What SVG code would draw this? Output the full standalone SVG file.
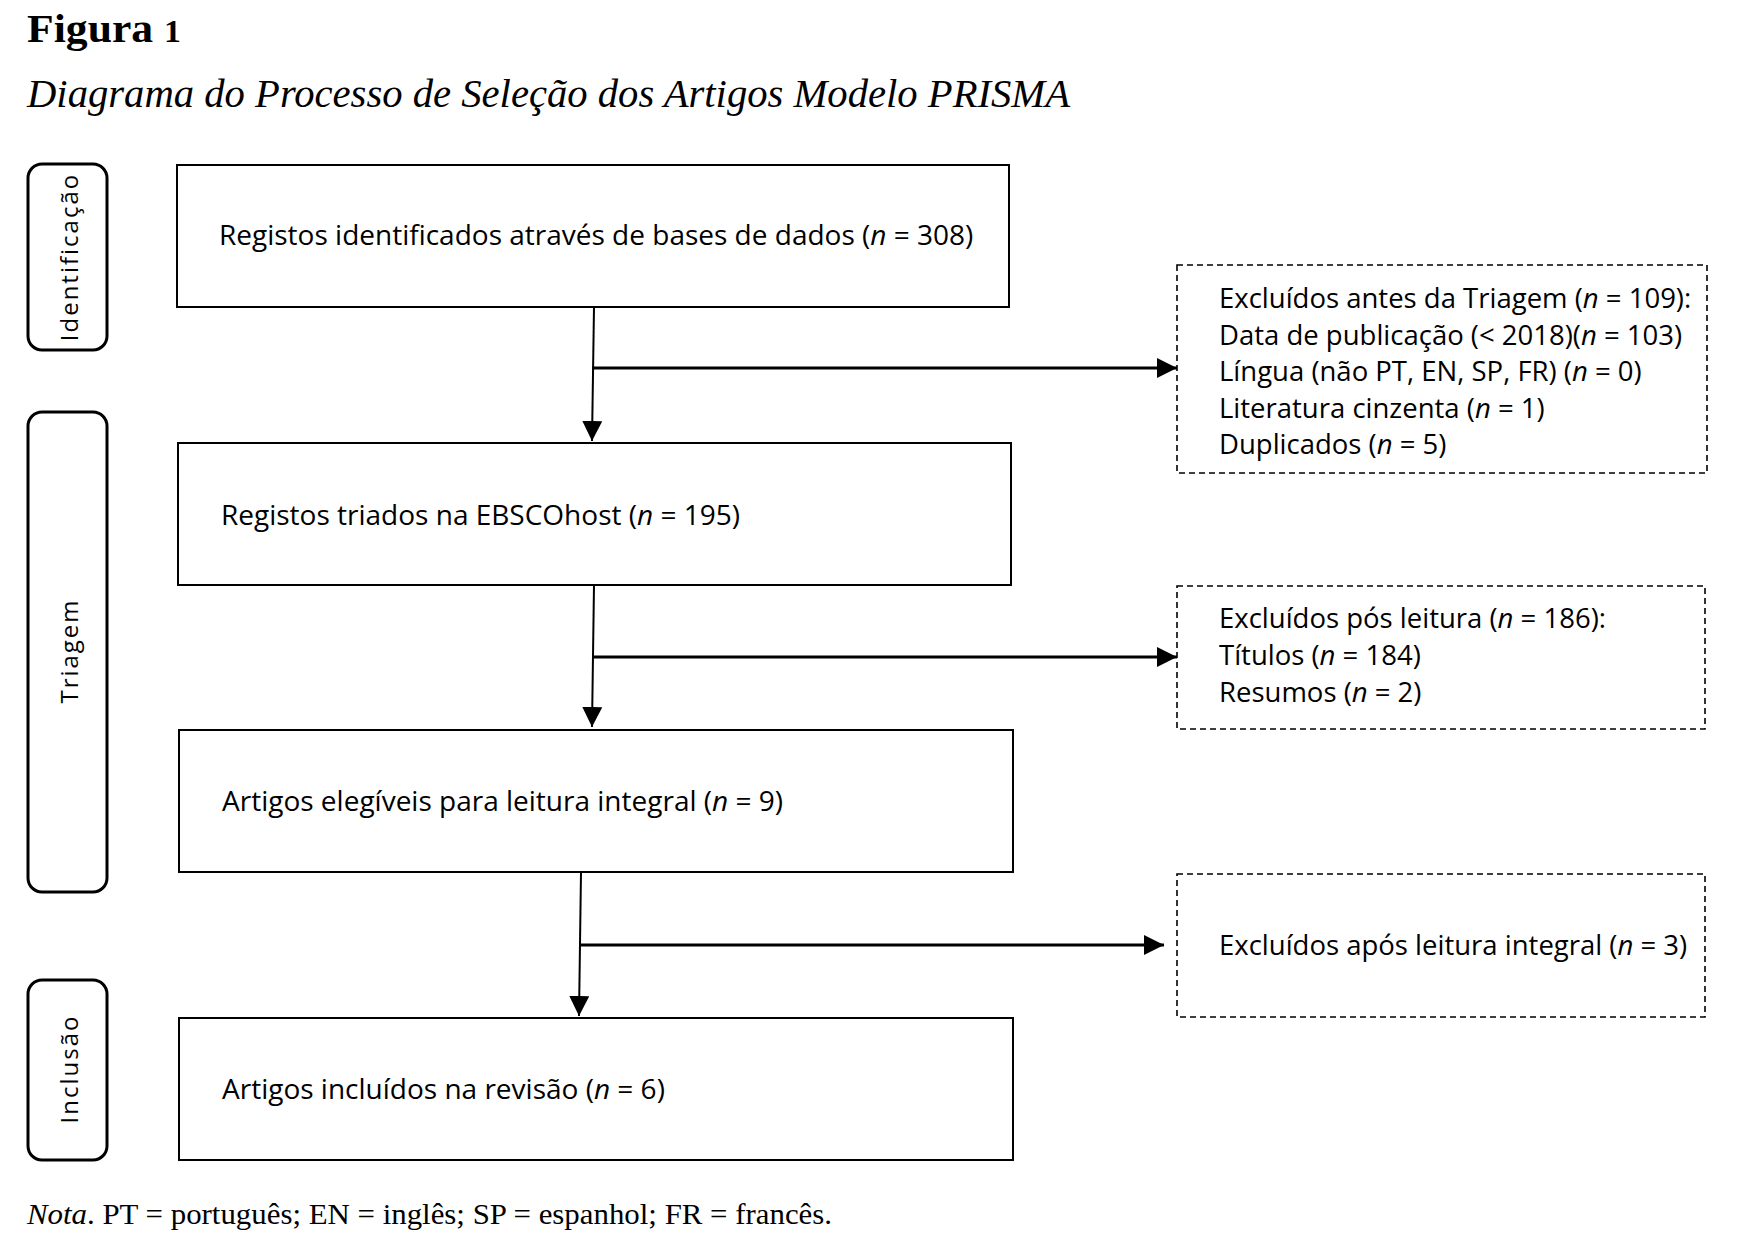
<svg xmlns="http://www.w3.org/2000/svg" width="1744" height="1260" viewBox="0 0 1744 1260">
<style>
.t{font-family:"Liberation Serif",serif;fill:#000}
.b{font-family:"Open Sans","Noto Sans",sans-serif;font-size:28px;fill:#000}
.d{font-family:"Open Sans","Noto Sans",sans-serif;font-size:27.5px;fill:#000}
.side{font-family:"Open Sans","Noto Sans",sans-serif;font-size:24px;letter-spacing:2px;fill:#000;text-anchor:middle}
.box{fill:#fff;stroke:#000;stroke-width:2}
.dash{fill:#fff;stroke:#000;stroke-width:1.6;stroke-dasharray:6 4}
.lane{fill:none;stroke:#000;stroke-width:3}
.v{stroke:#000;stroke-width:2;fill:none}
.h{stroke:#000;stroke-width:3;fill:none}
</style>
<defs>
<marker id="av" markerWidth="20" markerHeight="20" refX="20" refY="10" orient="auto" markerUnits="userSpaceOnUse" viewBox="0 0 20 20">
<path d="M0,0 L20,10 L0,20 z" fill="#000"/>
</marker>
</defs>
<rect width="1744" height="1260" fill="#fff"/>
<text class="t" x="27" y="42" font-size="40" font-weight="bold" textLength="154" lengthAdjust="spacingAndGlyphs">Figura <tspan font-size="31">1</tspan></text>
<text class="t" x="27" y="107" font-size="39" font-style="italic" textLength="1043" lengthAdjust="spacingAndGlyphs">Diagrama do Processo de Seleção dos Artigos Modelo PRISMA</text>

<g id="lane-identificacao">
<rect class="lane" x="28" y="164" width="79" height="186" rx="14"/>
<text class="side" transform="translate(78,257) rotate(-90)">Identificação</text>
</g>
<g id="lane-triagem">
<rect class="lane" x="28" y="412" width="79" height="480" rx="14"/>
<text class="side" transform="translate(78,651) rotate(-90)">Triagem</text>
</g>
<g id="lane-inclusao">
<rect class="lane" x="28" y="980" width="79" height="180" rx="14"/>
<text class="side" transform="translate(78,1069) rotate(-90)">Inclusão</text>
</g>

<g id="connectors">
<line class="v" x1="594" y1="307" x2="592" y2="441" marker-end="url(#av)"/>
<line class="h" x1="592" y1="368" x2="1177" y2="368" marker-end="url(#av)"/>
<line class="v" x1="594" y1="585" x2="592" y2="727" marker-end="url(#av)"/>
<line class="h" x1="592" y1="657" x2="1177" y2="657" marker-end="url(#av)"/>
<line class="v" x1="581" y1="872" x2="579" y2="1016" marker-end="url(#av)"/>
<line class="h" x1="579" y1="945" x2="1164" y2="945" marker-end="url(#av)"/>
</g>

<g id="n1">
<rect class="box" x="177" y="165" width="832" height="142"/>
<text class="b" x="219" y="245">Registos identificados através de bases de dados (<tspan font-style="italic">n</tspan> = 308)</text>
</g>
<g id="n2">
<rect class="box" x="178" y="443" width="833" height="142"/>
<text class="b" x="221" y="525">Registos triados na EBSCOhost (<tspan font-style="italic">n</tspan> = 195)</text>
</g>
<g id="n3">
<rect class="box" x="179" y="730" width="834" height="142"/>
<text class="b" x="222" y="811">Artigos elegíveis para leitura integral (<tspan font-style="italic">n</tspan> = 9)</text>
</g>
<g id="n4">
<rect class="box" x="179" y="1018" width="834" height="142"/>
<text class="b" x="222" y="1099">Artigos incluídos na revisão (<tspan font-style="italic">n</tspan> = 6)</text>
</g>

<g id="x1">
<rect class="dash" x="1177" y="265" width="530" height="208"/>
<text class="d" x="1219" y="308">Excluídos antes da Triagem (<tspan font-style="italic">n</tspan> = 109):</text>
<text class="d" x="1219" y="345">Data de publicação (&lt; 2018)(<tspan font-style="italic">n</tspan> = 103)</text>
<text class="d" x="1219" y="381">Língua (não PT, EN, SP, FR) (<tspan font-style="italic">n</tspan> = 0)</text>
<text class="d" x="1219" y="418">Literatura  cinzenta (<tspan font-style="italic">n</tspan> = 1)</text>
<text class="d" x="1219" y="454">Duplicados (<tspan font-style="italic">n</tspan> = 5)</text>
</g>
<g id="x2">
<rect class="dash" x="1177" y="586" width="528" height="143"/>
<text class="d" x="1219" y="628">Excluídos pós leitura (<tspan font-style="italic">n</tspan> = 186):</text>
<text class="d" x="1219" y="665">Títulos (<tspan font-style="italic">n</tspan> = 184)</text>
<text class="d" x="1219" y="702">Resumos (<tspan font-style="italic">n</tspan> = 2)</text>
</g>
<g id="x3">
<rect class="dash" x="1177" y="874" width="528" height="143"/>
<text class="d" x="1219" y="955">Excluídos após leitura integral (<tspan font-style="italic">n</tspan> = 3)</text>
</g>

<text class="t" x="27" y="1224" font-size="29" textLength="805" lengthAdjust="spacingAndGlyphs"><tspan font-style="italic">Nota</tspan>. PT = português; EN = inglês; SP = espanhol; FR = francês.</text>
</svg>
